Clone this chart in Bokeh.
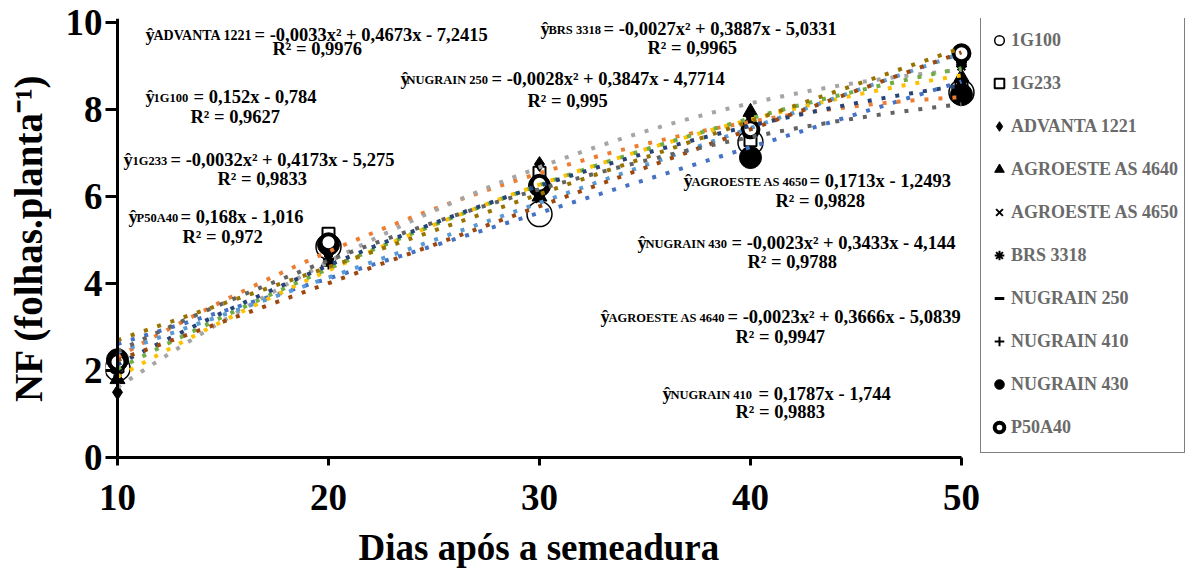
import numpy as np
from bokeh.plotting import figure
from bokeh.models import Range1d, FixedTicker, Span, Label, Legend, LegendItem, Title
from bokeh.embed import file_html
from bokeh.resources import INLINE

# ---------------- data ----------------
days = [10, 20, 30, 40, 50]
series_names = ["1G100", "1G233", "ADVANTA 1221", "AGROESTE AS 4640", "AGROESTE AS 4650",
                "BRS 3318", "NUGRAIN 250", "NUGRAIN 410", "NUGRAIN 430", "P50A40"]
nf_1g100 = [2.05, 4.85, 5.6, 7.25, 8.4]
nf_1g233 = [2.1, 5.15, 6.55, 7.3, 8.5]
nf_advanta = [1.5, 4.7, 6.75, 7.85, 9.05]
nf_as4640 = [1.8, 4.5, 6.0, 7.95, 8.75]
nf_as4650 = [2.0, 4.6, 5.95, 7.7, 9.05]
nf_brs3318 = [1.95, 4.55, 6.15, 7.75, 9.0]
nf_nu250 = [2.05, 4.65, 6.1, 7.6, 8.6]
nf_nu410 = [1.8, 4.45, 6.0, 7.55, 9.1]
nf_nu430 = [2.25, 4.9, 6.25, 6.9, 8.35]
nf_p50a40 = [2.2, 4.95, 6.3, 7.55, 9.3]
# trendline type (polynomial degree) given by each fitted equation
fit_degree = [1, 2, 2, 2, 1, 2, 2, 1, 2, 1]
y_ticks = [0, 2, 4, 6, 8, 10]
x_ticks = [10, 20, 30, 40, 50]
x_title = "Dias após a semeadura"
y_title = "NF (folhas.planta⁻¹)"

eq_names = ["ADVANTA 1221", "1G100", "1G233", "P50A40", "BRS 3318", "NUGRAIN 250",
            "AGROESTE AS 4650", "NUGRAIN 430", "AGROESTE AS 4640", "NUGRAIN 410"]
eq_rhs = ["= -0,0033x² + 0,4673x - 7,2415", "= 0,152x - 0,784", "= -0,0032x² + 0,4173x - 5,275",
          "= 0,168x - 1,016", "= -0,0027x² + 0,3887x - 5,0331", "= -0,0028x² + 0,3847x - 4,7714",
          "= 0,1713x - 1,2493", "= -0,0023x² + 0,3433x - 4,144", "= -0,0023x² + 0,3666x - 5,0839",
          "= 0,1787x - 1,744"]
eq_r2 = ["R² = 0,9976", "R² = 0,9627", "R² = 0,9833", "R² = 0,972", "R² = 0,9965", "R² = 0,995",
         "R² = 0,9828", "R² = 0,9788", "R² = 0,9947", "R² = 0,9883"]

# ---------------- styles / layout ----------------
all_nf = [nf_1g100, nf_1g233, nf_advanta, nf_as4640, nf_as4650,
          nf_brs3318, nf_nu250, nf_nu410, nf_nu430, nf_p50a40]
line_colors = ["#4472C4", "#ED7D31", "#A5A5A5", "#FFC000", "#5B9BD5",
               "#70AD47", "#264478", "#9E480E", "#636363", "#997300"]
marker_styles = [
    dict(marker="circle", size=25, fill_color=None, line_color="black", line_width=1.5),
    dict(marker="square", size=12, fill_color=None, line_color="black", line_width=2),
    dict(marker="diamond", size=15, fill_color="black", line_color="black", line_width=1),
    dict(marker="triangle", size=15, fill_color="black", line_color="black", line_width=1),
    dict(marker="x", size=11, fill_color=None, line_color="black", line_width=2),
    dict(marker="asterisk", size=11, fill_color=None, line_color="black", line_width=2),
    dict(marker="dash", size=9, fill_color=None, line_color="black", line_width=3),
    dict(marker="cross", size=11, fill_color=None, line_color="black", line_width=2),
    dict(marker="circle", size=22, fill_color="black", line_color="black", line_width=1),
    dict(marker="circle", size=16, fill_color="white", line_color="black", line_width=4),
]

FL, FB = 105, 457  # frame left / bottom in canvas px
FONT = "Liberation Serif"

# frame spans 105..1188 px horizontally (x=10 at 117 px, x=50 at 961 px)
p = figure(width=1190, height=581, x_range=Range1d(9.431, 60.76), y_range=Range1d(0, 10.1),
           output_backend="svg", toolbar_location=None,
           min_border_left=FL, min_border_right=2, min_border_top=18, min_border_bottom=581 - FB)
p.xgrid.visible = False
p.ygrid.visible = False
p.outline_line_color = None
p.background_fill_color = "white"
p.border_fill_color = "white"

# x axis
xa = p.xaxis[0]
xa.ticker = FixedTicker(ticks=x_ticks)
xa.bounds = (10, 50)
xa.axis_line_width = 3
xa.axis_line_color = "black"
xa.major_tick_in = 0
xa.major_tick_out = 8
xa.major_tick_line_width = 3
xa.minor_tick_line_color = None
xa.major_label_text_font = FONT
xa.major_label_text_font_style = "bold"
xa.major_label_text_font_size = "37px"
xa.major_label_text_color = "black"
xa.major_label_standoff = 19

# x title, aligned under the 10..50 axis span
p.add_layout(Title(text=x_title, align="left", offset=253, standoff=25,
                   text_font=FONT, text_font_style="bold", text_font_size="37px",
                   text_color="black"), "below")

# y axis
ya = p.yaxis[0]
ya.ticker = FixedTicker(ticks=y_ticks)
ya.axis_line_color = None
ya.major_tick_in = 12
ya.major_tick_out = 0
ya.major_tick_line_width = 3
ya.major_tick_line_color = "black"
ya.minor_tick_line_color = None
ya.major_label_text_font = FONT
ya.major_label_text_font_style = "bold"
ya.major_label_text_font_size = "37px"
ya.major_label_text_color = "black"
ya.major_label_standoff = 3
ya.axis_label = y_title
ya.axis_label_text_font = FONT
ya.axis_label_text_font_style = "bold"
ya.axis_label_text_font_size = "39px"
ya.axis_label_text_color = "black"
ya.axis_label_standoff = 13

p.add_layout(Span(location=10, dimension="height", line_color="black", line_width=3))

# markers
legend_items = []
for name, vals, st in zip(series_names, all_nf, marker_styles):
    r = p.scatter(days, vals, **st)
    legend_items.append(LegendItem(label=name, renderers=[r]))

# trendlines (least-squares fits of each series, as the chart's trendlines)
xs = np.linspace(days[0], days[-1], 120)
for vals, deg, col in zip(all_nf, fit_degree, line_colors):
    coef = np.polyfit(days, vals, deg)
    p.line(xs, np.polyval(coef, xs), line_color=col, line_width=4, line_dash="4 10")

legend = Legend(items=legend_items, location=(875, 4), orientation="vertical",
                label_text_font=FONT, label_text_font_style="bold", label_text_font_size="18px",
                label_text_color="#6a6a6a", glyph_width=24, glyph_height=38, label_height=38,
                label_standoff=0, spacing=5, padding=6, margin=0,
                border_line_color="black", border_line_width=1.5, background_fill_color="white",
                background_fill_alpha=1.0)
p.add_layout(legend)

# equation annotations: (yhat_x, sub_x, rhs_x, baseline1, r2_x, baseline2) in canvas px
eq_pos = [(145, 153, 254, 41, 272, 55),
          (145, 153, 193, 103, 190, 123),
          (123, 132, 170, 166, 217, 185),
          (128, 136, 180, 223, 182, 243),
          (540, 548, 603, 35, 647, 54),
          (400, 406, 491, 85, 527, 107),
          (683, 691, 809, 187, 775, 207),
          (637, 645, 731, 249, 747, 268),
          (600, 608, 727, 323, 735, 343),
          (662, 670, 758, 400, 735, 418)]
sub_sizes = [14, 12.5, 12.5, 12.5, 12.5, 12.5, 12.5, 12.5, 12.5, 12.5]
TEXT_DY = 7  # baseline correction for Label rendering


def lab(X, Y, text, size):
    p.add_layout(Label(x=X - FL, y=FB - Y + TEXT_DY, x_units="screen", y_units="screen", text=text,
                       text_font=FONT, text_font_style="bold", text_font_size=f"{size}px",
                       text_color="black", text_baseline="alphabetic", text_align="left"))


for name, rhs, r2, (hx, sx, rx, b1, r2x, b2), ss in zip(eq_names, eq_rhs, eq_r2, eq_pos, sub_sizes):
    lab(hx, b1, "ŷ", 18.5)
    lab(sx, b1 + 1, name, ss)
    lab(rx, b1, rhs, 18.5)
    lab(r2x, b2, r2, 18.5)

open("out.html", "w").write(file_html(p, INLINE))
